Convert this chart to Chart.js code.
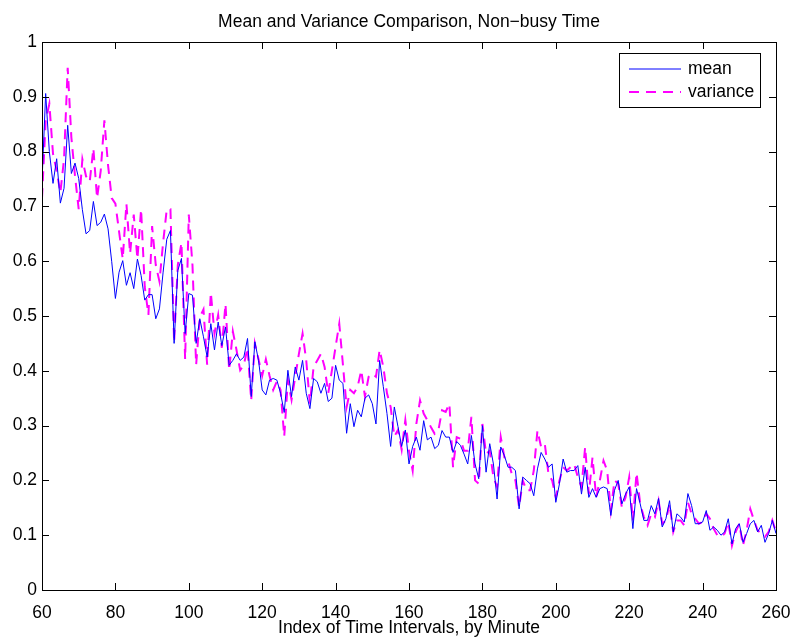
<!DOCTYPE html>
<html>
<head>
<meta charset="utf-8">
<script src="https://cdn.jsdelivr.net/npm/chart.js@4"></script>
<style>
  body { margin: 0; background: #fff; }
  canvas { display: block; }
</style>
</head>
<body>
<canvas id="mychart" width="792" height="639"></canvas>
<script>
// minute index, one sample per minute
const minutes = Array.from({ length: 201 }, (_, i) => 60 + i);

const meanValues = [
    0.745, 0.906, 0.800, 0.742, 0.787, 0.706, 0.733, 0.848, 0.760, 0.779,
    0.751, 0.694, 0.650, 0.656, 0.709, 0.665, 0.671, 0.686, 0.659, 0.599,
    0.532, 0.580, 0.601, 0.556, 0.579, 0.550, 0.604, 0.574, 0.529, 0.539,
    0.539, 0.495, 0.513, 0.580, 0.640, 0.656, 0.450, 0.583, 0.605, 0.468,
    0.541, 0.538, 0.450, 0.495, 0.462, 0.425, 0.486, 0.438, 0.489, 0.446,
    0.480, 0.410, 0.419, 0.431, 0.419, 0.425, 0.459, 0.353, 0.453, 0.419,
    0.365, 0.356, 0.383, 0.386, 0.383, 0.359, 0.324, 0.401, 0.353, 0.407,
    0.383, 0.419, 0.359, 0.331, 0.386, 0.380, 0.359, 0.377, 0.344, 0.350,
    0.410, 0.383, 0.377, 0.286, 0.340, 0.298, 0.328, 0.316, 0.350, 0.356,
    0.340, 0.303, 0.419, 0.371, 0.322, 0.262, 0.334, 0.298, 0.262, 0.292,
    0.230, 0.262, 0.279, 0.255, 0.309, 0.274, 0.279, 0.258, 0.264, 0.291,
    0.279, 0.279, 0.251, 0.271, 0.264, 0.248, 0.230, 0.282, 0.230, 0.203,
    0.300, 0.215, 0.267, 0.230, 0.166, 0.261, 0.245, 0.224, 0.224, 0.218,
    0.148, 0.206, 0.200, 0.194, 0.172, 0.221, 0.251, 0.239, 0.224, 0.230,
    0.160, 0.194, 0.239, 0.215, 0.218, 0.218, 0.227, 0.175, 0.224, 0.169,
    0.185, 0.169, 0.185, 0.188, 0.185, 0.136, 0.182, 0.200, 0.157, 0.175,
    0.188, 0.112, 0.185, 0.157, 0.127, 0.127, 0.154, 0.139, 0.167, 0.115,
    0.130, 0.163, 0.106, 0.139, 0.133, 0.124, 0.176, 0.154, 0.121, 0.121,
    0.124, 0.145, 0.109, 0.115, 0.109, 0.100, 0.106, 0.130, 0.084, 0.112,
    0.121, 0.087, 0.103, 0.121, 0.127, 0.106, 0.118, 0.087, 0.103, 0.127,
    0.103
];

const varianceValues = [
    0.715, 0.857, 0.887, 0.796, 0.765, 0.725, 0.786, 0.953, 0.826, 0.755,
    0.695, 0.786, 0.755, 0.745, 0.806, 0.715, 0.765, 0.857, 0.775, 0.715,
    0.705, 0.654, 0.604, 0.705, 0.614, 0.685, 0.604, 0.695, 0.553, 0.502,
    0.664, 0.593, 0.563, 0.634, 0.695, 0.695, 0.452, 0.593, 0.634, 0.421,
    0.685, 0.593, 0.411, 0.498, 0.512, 0.411, 0.543, 0.468, 0.502, 0.442,
    0.522, 0.401, 0.472, 0.438, 0.401, 0.411, 0.442, 0.346, 0.450, 0.421,
    0.391, 0.421, 0.391, 0.365, 0.381, 0.365, 0.280, 0.383, 0.347, 0.389,
    0.431, 0.468, 0.419, 0.340, 0.407, 0.419, 0.431, 0.407, 0.359, 0.401,
    0.444, 0.486, 0.411, 0.334, 0.365, 0.359, 0.371, 0.401, 0.353, 0.389,
    0.395, 0.389, 0.438, 0.407, 0.359, 0.334, 0.280, 0.292, 0.256, 0.310,
    0.254, 0.218, 0.303, 0.346, 0.322, 0.310, 0.297, 0.285, 0.291, 0.328,
    0.325, 0.340, 0.224, 0.279, 0.276, 0.254, 0.254, 0.316, 0.200, 0.194,
    0.303, 0.248, 0.254, 0.206, 0.188, 0.279, 0.242, 0.236, 0.212, 0.200,
    0.151, 0.200, 0.182, 0.182, 0.218, 0.291, 0.261, 0.267, 0.212, 0.200,
    0.169, 0.200, 0.224, 0.218, 0.224, 0.230, 0.206, 0.188, 0.261, 0.175,
    0.242, 0.169, 0.200, 0.236, 0.218, 0.145, 0.200, 0.194, 0.151, 0.169,
    0.206, 0.127, 0.214, 0.157, 0.133, 0.118, 0.139, 0.133, 0.163, 0.121,
    0.127, 0.157, 0.106, 0.127, 0.127, 0.118, 0.160, 0.139, 0.130, 0.121,
    0.124, 0.139, 0.130, 0.112, 0.100, 0.097, 0.103, 0.124, 0.081, 0.106,
    0.121, 0.081, 0.109, 0.148, 0.127, 0.109, 0.103, 0.097, 0.106, 0.127,
    0.106
];

const xTicks = [60, 80, 100, 120, 140, 160, 180, 200, 220, 240, 260];
const yTicks = [0, 0.1, 0.2, 0.3, 0.4, 0.5, 0.6, 0.7, 0.8, 0.9, 1];

const seriesNames = ['mean', 'variance'];
const chartTitle = 'Mean and Variance Comparison, Non\u2212busy Time';

const FONT = '"Liberation Sans", Arial, Helvetica, sans-serif';
const FONT_SIZE = 17.5;
Chart.defaults.font.family = FONT;
Chart.defaults.font.size = FONT_SIZE;
Chart.defaults.color = '#000';

const toPoints = values => minutes.map((m, i) => ({ x: m, y: values[i] }));

// box around the plot with inward ticks on all four sides, title and legend
const matlabFrame = {
    id: 'matlabFrame',
    afterDraw(chart) {
        const { ctx, chartArea: a, scales } = chart;
        const len = 7;
        ctx.save();
        ctx.strokeStyle = '#000';
        ctx.lineWidth = 1;
        ctx.strokeRect(a.left + 0.5, a.top + 0.5, a.right - a.left, a.bottom - a.top);
        ctx.beginPath();
        xTicks.forEach(t => {
            const px = Math.round(scales.x.getPixelForValue(t)) + 0.5;
            ctx.moveTo(px, a.bottom); ctx.lineTo(px, a.bottom - len);
            ctx.moveTo(px, a.top); ctx.lineTo(px, a.top + len);
        });
        yTicks.forEach(t => {
            const py = Math.round(scales.y.getPixelForValue(t)) + 0.5;
            ctx.moveTo(a.left, py); ctx.lineTo(a.left + len, py);
            ctx.moveTo(a.right, py); ctx.lineTo(a.right - len, py);
        });
        ctx.stroke();

        // title centred over the plot box
        ctx.font = FONT_SIZE + 'px ' + FONT;
        ctx.fillStyle = '#000';
        ctx.textAlign = 'center';
        ctx.textBaseline = 'alphabetic';
        ctx.fillText(chartTitle, (a.left + a.right) / 2, 27);

        // legend box in the top right corner
        const bx = a.right - 157, by = a.top + 11, bw = 141, bh = 54;
        ctx.fillStyle = '#fff';
        ctx.fillRect(bx, by, bw, bh);
        ctx.strokeRect(bx + 0.5, by + 0.5, bw, bh);
        ctx.textAlign = 'left';
        ctx.textBaseline = 'middle';
        ctx.fillStyle = '#000';
        chart.data.datasets.forEach((ds, i) => {
            const ly = by + 16 + i * 23;
            ctx.beginPath();
            ctx.strokeStyle = ds.borderColor;
            ctx.lineWidth = ds.borderWidth;
            ctx.setLineDash(ds.borderDash || []);
            ctx.moveTo(bx + 10, ly);
            ctx.lineTo(bx + 62, ly);
            ctx.stroke();
            ctx.setLineDash([]);
            ctx.fillText(ds.label, bx + 69, ly);
        });
        ctx.restore();
    }
};

const ctx = document.getElementById('mychart').getContext('2d');
const myChart = new Chart(ctx, {
    type: 'line',
    data: {
        datasets: [
            {
                label: seriesNames[0],
                data: toPoints(meanValues),
                borderColor: '#0000ff',
                borderWidth: 1,
                pointRadius: 0,
                tension: 0
            },
            {
                label: seriesNames[1],
                data: toPoints(varianceValues),
                borderColor: '#ff00ff',
                borderWidth: 2,
                borderDash: [10, 7],
                pointRadius: 0,
                tension: 0
            }
        ]
    },
    options: {
        responsive: false,
        animation: false,
        devicePixelRatio: 1,
        layout: { padding: { left: 0, right: 16, top: 42, bottom: 0 } },
        plugins: {
            legend: { display: false },
            tooltip: { enabled: false },
            title: { display: false }
        },
        scales: {
            x: {
                type: 'linear',
                min: xTicks[0],
                max: xTicks[xTicks.length - 1],
                border: { display: false },
                grid: { display: false, drawTicks: false },
                ticks: { stepSize: 20, padding: 13, maxRotation: 0, autoSkip: false },
                title: {
                    display: true,
                    text: 'Index of Time Intervals, by Minute',
                    padding: { top: 0, bottom: 0 }
                },
                afterFit: scale => {
                    scale.height = 49;
                    scale.paddingLeft = 0;
                    scale.paddingRight = 0;
                }
            },
            y: {
                min: yTicks[0],
                max: yTicks[yTicks.length - 1],
                border: { display: false },
                grid: { display: false, drawTicks: false },
                ticks: {
                    stepSize: 0.1,
                    padding: 5,
                    callback: v => String(Math.round(v * 10) / 10)
                },
                afterFit: scale => {
                    scale.width = 42;
                    scale.paddingTop = 0;
                    scale.paddingBottom = 0;
                }
            }
        }
    },
    plugins: [matlabFrame]
});
</script>
</body>
</html>
